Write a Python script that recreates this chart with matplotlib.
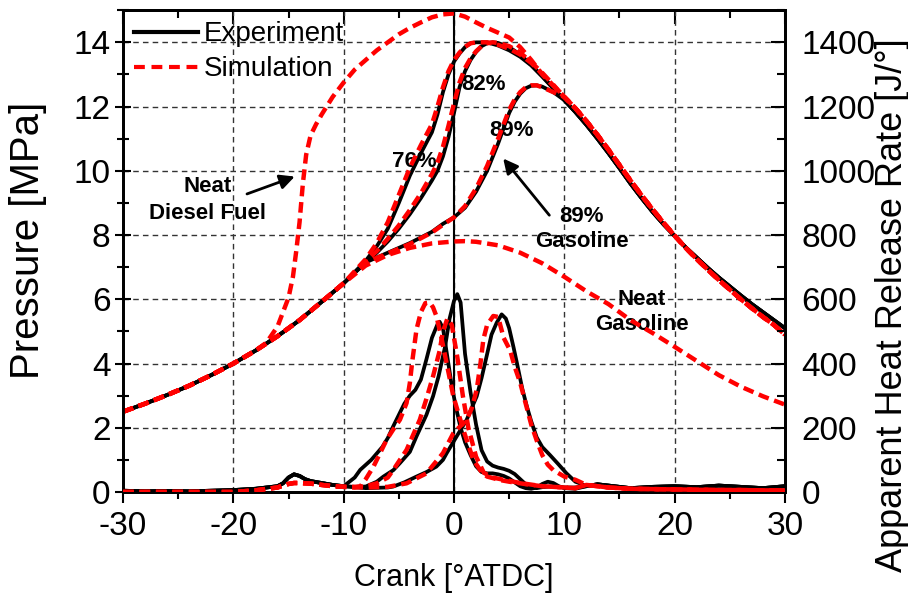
import matplotlib
matplotlib.use("Agg")
import matplotlib.pyplot as plt
from matplotlib.ticker import MultipleLocator

plt.rcParams['font.family'] = ['Liberation Sans', 'DejaVu Sans']
plt.rcParams['axes.unicode_minus'] = False

# ---- Data ----

# shared compression stroke (pressure, MPa) for all runs
comp_x = [-30, -28, -26, -24, -22, -20, -18, -16, -14, -12, -10]
comp_p = [2.50, 2.75, 3.02, 3.31, 3.64, 4.00, 4.40, 4.85, 5.35, 5.92, 6.50]

# shared expansion stroke after the peaks
exp_x = [10, 11, 12, 13, 14, 15, 16, 17, 18, 19, 20, 21, 22, 23, 24, 25, 26, 27, 28, 29, 30]
exp_p = [12.2, 11.83, 11.43, 11.0, 10.55, 10.08, 9.6, 9.15, 8.72, 8.33, 7.97,
         7.62, 7.3, 6.98, 6.68, 6.4, 6.12, 5.85, 5.6, 5.35, 5.1]
exp_p_sim = [12.3, 11.95, 11.55, 11.12, 10.66, 10.18, 9.7, 9.24, 8.8, 8.38, 7.98,
             7.6, 7.25, 6.92, 6.6, 6.3, 6.0, 5.72, 5.45, 5.2, 4.9]

# neat gasoline (simulation) - after -10 deg
ng_x = [-8, -6, -4, -2, 0, 1, 2, 4, 6, 8, 10, 12, 14, 16, 18, 20, 22, 24, 26, 28, 30]
ng_p = [7.05, 7.38, 7.60, 7.74, 7.80, 7.81, 7.79, 7.68, 7.45, 7.12, 6.70, 6.25,
        5.85, 5.35, 4.95, 4.52, 4.08, 3.64, 3.28, 2.98, 2.72]

# neat diesel fuel (simulation) - departs from compression near -17 deg
nd_x = [-17, -16, -15.5, -15, -14.6, -14.3, -14.0, -13.7, -13.4, -13.0, -12.5, -12, -11,
        -10, -9, -8, -7, -6, -5, -4, -3, -2, -1, 0, 1, 2, 3, 4, 5, 6, 7, 8, 9]
nd_p = [4.65, 5.15, 5.6, 6.05, 6.7, 7.5, 8.4, 9.6, 10.5, 11.1, 11.45, 11.75, 12.3,
        12.75, 13.15, 13.45, 13.75, 14.0, 14.25, 14.45, 14.62, 14.78, 14.87, 14.9, 14.8,
        14.62, 14.45, 14.3, 14.15, 13.85, 13.45, 13.0, 12.65]

# 76 % gasoline
p76_x = [-8, -7, -6, -5, -4, -3, -2, -1.5, -1, -0.5, 0, 0.5, 1, 1.5, 2, 3, 4, 5, 6, 7, 8, 9]
p76_exp = [7.2, 7.65, 8.2, 9.0, 9.85, 10.55, 11.2, 11.75, 12.45, 13.0, 13.4, 13.65, 13.85,
           13.97, 14.0, 14.0, 13.9, 13.75, 13.55, 13.28, 12.93, 12.56]
p76_sim = [7.25, 7.75, 8.4, 9.25, 10.1, 10.8, 11.45, 12.0, 12.6, 13.1, 13.45, 13.68, 13.86,
           13.97, 14.0, 14.0, 13.92, 13.8, 13.62, 13.36, 13.02, 12.65]

# 82 % gasoline
p82_x = [-8, -7, -6, -5, -4, -3, -2, -1.5, -1, -0.5, 0, 0.5, 1, 1.5, 2, 2.5, 3, 3.5, 4, 5, 6, 7, 8, 9]
p82_exp = [7.15, 7.45, 7.8, 8.2, 8.65, 9.15, 9.7, 10.0, 10.45, 11.05, 11.8, 12.6, 13.1, 13.45,
           13.7, 13.88, 13.97, 14.0, 13.98, 13.85, 13.62, 13.3, 12.95, 12.58]
p82_sim = [7.18, 7.5, 7.88, 8.3, 8.78, 9.3, 9.9, 10.25, 10.75, 11.4, 12.1, 12.75, 13.2, 13.5,
           13.72, 13.88, 13.97, 14.0, 13.98, 13.88, 13.68, 13.38, 13.05, 12.68]

# 89 % gasoline
p89_x = [-8, -6, -4, -2, -1, 0, 1, 2, 3, 4, 5, 5.5, 6, 6.5, 7, 7.5, 8, 9]
p89_exp = [7.15, 7.45, 7.75, 8.1, 8.35, 8.55, 8.85, 9.35, 10.0, 10.85, 11.8, 12.15, 12.4,
           12.57, 12.65, 12.66, 12.62, 12.45]
p89_sim = [7.15, 7.43, 7.72, 8.08, 8.32, 8.55, 8.9, 9.45, 10.15, 11.0, 11.9, 12.22, 12.45,
           12.6, 12.66, 12.66, 12.6, 12.45]

# apparent heat release rate (J/deg) - shared pre-ignition part
hpre_x = [-30, -28, -26, -24, -22, -20, -18, -16, -15.5, -15, -14.5, -14, -13.5, -13, -12, -11, -10]
hpre_exp = [4, 2, 3, 2, 4, 6, 10, 18, 27, 45, 55, 50, 40, 34, 28, 22, 18]
hpre_sim = [0, 0, 0, 0, 0, 0, 5, 14, 20, 25, 28, 28, 27, 26, 22, 18, 16]

# shared late tail
htail_x = [12, 13, 14, 16, 18, 20, 22, 24, 26, 28, 30]
htail_exp = [18, 24, 20, 12, 16, 18, 15, 20, 16, 12, 18]
htail_sim = [22, 18, 14, 10, 9, 8, 7, 6, 6, 5, 5]

h76_x = [-9, -8.5, -7.5, -6.5, -6, -5.5, -5, -4.5, -4, -3.5, -3, -2.5, -2, -1.5, -1.3, -1,
         -0.6, -0.2, 0.2, 0.6, 1.0, 1.5, 2, 2.5, 3, 3.5, 4, 4.5, 5, 5.5, 6, 6.5, 7, 7.5, 8,
         8.5, 9, 9.5, 10, 11]
h76_exp = [45, 69, 100, 140, 168, 205, 240, 275, 300, 318, 350, 413, 480, 522, 530, 510,
           420, 330, 260, 200, 155, 115, 80, 62, 58, 58, 55, 50, 42, 30, 18, 12, 10, 14, 25,
           32, 28, 18, 12, 10]
h76_sim_x = [-9, -8.5, -8, -7.3, -6.5, -6.1, -5.5, -4.9, -4.3, -4, -3.8, -3.4, -3, -2.6, -2.2,
             -1.9, -1.6, -1.2, -0.8, -0.06, 0.84, 1.75, 2.5, 3, 4.2, 5, 6, 7, 8, 9, 10, 11]
h76_sim = [14, 17, 40, 79, 135, 163, 195, 225, 277, 340, 402, 506, 560, 588, 590, 575, 548,
           490, 423, 298, 194, 100, 62, 48, 37, 32, 27, 22, 18, 16, 14, 12]

h82_x = [-9, -8, -7, -6.4, -5.5, -4.9, -4, -3.4, -2.5, -1.9, -1.4, -0.8, -0.4, 0, 0.3, 0.6,
         1.0, 1.5, 2, 2.5, 3, 3.5, 4, 4.5, 5, 5.5, 6, 6.5, 7, 7.5, 8, 9, 10, 11]
h82_exp = [16, 17, 32, 48, 68, 90, 125, 173, 240, 298, 360, 454, 540, 595, 616, 590, 430,
           310, 210, 130, 95, 82, 76, 72, 66, 56, 40, 24, 14, 12, 15, 18, 14, 14]
h82_sim_x = [-9, -8, -7, -6, -5.5, -4.3, -3.1, -2.5, -1.9, -1.3, -1.0, -0.6, -0.2, 0.3, 0.8,
             1.3, 2.0, 2.7, 3.5, 4.5, 6, 8, 10, 11]
h82_sim = [16, 18, 27, 45, 69, 131, 225, 290, 360, 440, 500, 540, 520, 420, 300, 200, 110,
           60, 45, 38, 28, 18, 14, 12]

h89_x = [-9, -8, -6, -5.5, -4.5, -3.4, -2.5, -1.6, -1, -0.66, 0.24, 1.15, 2.06, 2.5, 2.96,
         3.4, 3.87, 4.32, 4.7, 5.0, 5.4, 5.7, 6.2, 6.6, 7.0, 7.5, 8.0, 8.7, 9.5, 10.2, 11,
         11.4]
h89_exp = [15, 12, 14, 17, 30, 48, 62, 79, 100, 121, 173, 225, 298, 355, 423, 490, 527, 553,
           540, 510, 450, 402, 320, 267, 220, 170, 140, 115, 85, 58, 32, 27]
h89_sim_x = [-9, -8, -6, -4.3, -2.5, -1.0, -0.06, 1.15, 1.6, 2.06, 2.4, 2.66, 3.0, 3.56, 4.0,
             4.5, 5.1, 5.5, 6.0, 6.5, 7.0, 7.5, 8.0, 8.5, 9.0, 10, 11]
h89_sim = [15, 14, 16, 27, 58, 121, 183, 225, 260, 319, 400, 475, 520, 548, 545, 480, 440,
           390, 340, 275, 210, 160, 115, 85, 68, 48, 38]

# ---- Build full curves ----
def join(*parts):
    xs, ys = [], []
    for x, y in parts:
        xs += list(x)
        ys += list(y)
    return xs, ys

black = 'black'
red = '#ff0000'
lw_exp = 2.7
lw_sim = 3.2
dash = (2.4, 1.3)

fig = plt.figure(figsize=(9.08, 5.97), dpi=100)
ax = fig.add_axes([0.1355, 0.1759, 0.729, 0.807])
ax2 = ax.twinx()

# ---- Pressure ----
for px, pe in [(p76_x, p76_exp), (p82_x, p82_exp), (p89_x, p89_exp)]:
    x, y = join((comp_x, comp_p), (px, pe), (exp_x, exp_p))
    ax.plot(x, y, color=black, lw=lw_exp, zorder=3)

for px, ps in [(p76_x, p76_sim), (p82_x, p82_sim), (p89_x, p89_sim)]:
    x, y = join((comp_x, comp_p), (px, ps), (exp_x, exp_p_sim))
    ax.plot(x, y, color=red, lw=lw_sim, dashes=dash, zorder=4)

x, y = join((comp_x, comp_p), (ng_x, ng_p))
ax.plot(x, y, color=red, lw=lw_sim, dashes=dash, zorder=4)
x, y = join((comp_x[:-4], comp_p[:-4]), (nd_x, nd_p), (exp_x, exp_p_sim))
ax.plot(x, y, color=red, lw=lw_sim, dashes=dash, zorder=4)

# ---- Heat release rate ----
for hx, he in [(h76_x, h76_exp), (h82_x, h82_exp), (h89_x, h89_exp)]:
    x, y = join((hpre_x, hpre_exp), (hx, he), (htail_x, htail_exp))
    ax2.plot(x, y, color=black, lw=lw_exp, zorder=3)
for hx, hs in [(h76_sim_x, h76_sim), (h82_sim_x, h82_sim), (h89_sim_x, h89_sim)]:
    x, y = join((hpre_x, hpre_sim), (hx, hs), (htail_x, htail_sim))
    ax2.plot(x, y, color=red, lw=lw_sim, dashes=dash, zorder=4)

ax.axvline(0, color='black', lw=1.5, zorder=2)

# legend (proxy lines)
ax.plot([], [], color=black, lw=3, label='Experiment')
ax.plot([], [], color=red, lw=3, dashes=(2.6, 1.6), label='Simulation')
ax.legend(loc='upper left', frameon=False, fontsize=20, handlelength=2.3,
          handletextpad=0.2, borderaxespad=0.1, borderpad=0.3, labelspacing=0.33)

# ---- Annotations ----
bold = dict(fontsize=16, fontweight='bold', ha='center', va='center')
ax.text(-22.3, 9.1, 'Neat\nDiesel Fuel', linespacing=1.4, **bold)
ax.annotate('', xy=(-14.2, 9.85), xytext=(-19.0, 9.25),
            arrowprops=dict(arrowstyle='-|>', color='black', lw=2, mutation_scale=22))
ax.text(-3.6, 10.3, '76%', **bold)
ax.text(2.7, 12.7, '82%', **bold)
ax.text(5.2, 11.25, '89%', **bold)
ax.text(11.6, 8.2, '89%\nGasoline', linespacing=1.25, **bold)
ax.annotate('', xy=(4.3, 10.45), xytext=(8.8, 8.55),
            arrowprops=dict(arrowstyle='-|>', color='black', lw=2, mutation_scale=22))
ax.text(17.0, 5.6, 'Neat\nGasoline', linespacing=1.25, **bold)

# ---- Axes ----
ax.set_xlim(-30, 30)
ax.set_ylim(0, 15)
ax2.set_ylim(0, 1500)
ax.xaxis.set_major_locator(MultipleLocator(10))
ax.xaxis.set_minor_locator(MultipleLocator(5))
ax.yaxis.set_major_locator(MultipleLocator(2))
ax.yaxis.set_minor_locator(MultipleLocator(1))
ax2.yaxis.set_major_locator(MultipleLocator(200))
ax2.yaxis.set_minor_locator(MultipleLocator(100))

ax.grid(True, which='major', color='#333333', ls=(0, (4, 3)), lw=1.0)
ax.set_axisbelow(True)

ax.tick_params(axis='x', which='both', direction='out', labelsize=24, pad=6)
ax.tick_params(axis='x', which='major', length=8, width=1.5)
ax.tick_params(axis='x', which='minor', length=5, width=1.5)
ax.tick_params(axis='y', which='both', direction='inout', labelsize=24, pad=3)
ax.tick_params(axis='y', which='major', length=12, width=1.5)
ax.tick_params(axis='y', which='minor', length=8, width=1.5)
ax2.tick_params(axis='y', which='both', direction='in', labelsize=24, pad=12)
ax2.tick_params(axis='y', which='major', length=10, width=1.5)
ax2.tick_params(axis='y', which='minor', length=6, width=1.5)

top = ax.secondary_xaxis('top')
top.xaxis.set_major_locator(MultipleLocator(10))
top.xaxis.set_minor_locator(MultipleLocator(5))
top.tick_params(which='both', direction='in', labeltop=False, width=1.5)
top.tick_params(which='major', length=10)
top.tick_params(which='minor', length=6)

for a in (ax, ax2):
    for s in a.spines.values():
        s.set_linewidth(2)
top.spines['top'].set_linewidth(2)

ax.set_xlabel('Crank [°ATDC]', fontsize=22, va='center')
ax.xaxis.set_label_coords(0.5, -0.178)
ax.set_ylabel('Pressure [MPa]', fontsize=29, va='center')
ax.yaxis.set_label_coords(-0.143, 0.523)
ax2.set_ylabel('Apparent Heat Release Rate [J/°]', fontsize=26, va='center')
ax2.yaxis.set_label_coords(1.162, 0.388)

plt.savefig('out.png', dpi=100)
